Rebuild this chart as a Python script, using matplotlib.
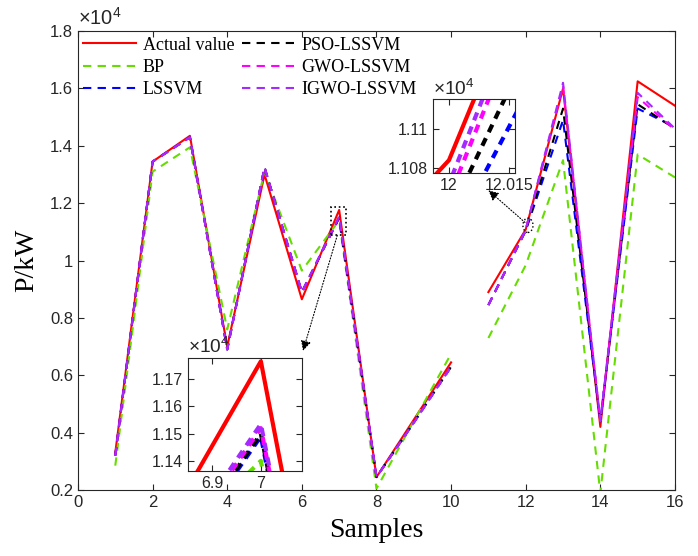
import matplotlib
matplotlib.use("Agg")
import matplotlib.pyplot as plt
from matplotlib.ticker import FuncFormatter
from matplotlib.patches import Rectangle, Ellipse
import numpy as np

# power values in kW, samples 1..16 (gap between sample 10 and 11)
samples = np.arange(1, 17)
actual = [3300, 13450, 14350, 7000, 13000, 8650, 11765, 2450, 4450, 6450,
          8900, 11084, 16000, 4200, 16250, 15400]
bp = [2850, 13100, 13950, 7600, 13100, 9650, 11400, 2050, 4400, 6750,
      7300, 9840, 13500, 1900, 13700, 12900]
lssvm = [3200, 13450, 14300, 6900, 13250, 8900, 11490, 2450, 4350, 6300,
         8450, 11043, 14900, 4400, 15300, 14650]
pso = [3200, 13450, 14300, 6900, 13250, 8900, 11500, 2450, 4350, 6300,
       8450, 11056, 15300, 4400, 15450, 14600]
gwo = [3200, 13450, 14300, 6900, 13250, 8900, 11520, 2450, 4350, 6300,
       8450, 11065, 16100, 4400, 15700, 14550]
igwo = [3200, 13450, 14300, 6900, 13250, 8900, 11535, 2450, 4350, 6300,
        8450, 11072, 16200, 4400, 15850, 14600]

series = [("Actual value", actual, "#ff0000", "-"),
          ("BP", bp, "#66dd00", "--"),
          ("LSSVM", lssvm, "#0000ff", "--"),
          ("PSO-LSSVM", pso, "#000000", "--"),
          ("GWO-LSSVM", gwo, "#ff00ff", "--"),
          ("IGWO-LSSVM", igwo, "#a52aff", "--")]

plt.rcParams["font.family"] = ["Liberation Sans", "DejaVu Sans"]
plt.rcParams["mathtext.fontset"] = "custom"
plt.rcParams["mathtext.rm"] = "Liberation Sans"
plt.rcParams["mathtext.it"] = "Liberation Sans:italic"
plt.rcParams["axes.edgecolor"] = "#262626"
plt.rcParams["xtick.color"] = "#262626"
plt.rcParams["ytick.color"] = "#262626"

SERIF = "Liberation Serif"
yfmt = FuncFormatter(lambda v, p: "{:g}".format(round(v / 1e4, 6)))
xfmt = FuncFormatter(lambda v, p: "{:g}".format(round(v, 4)))


def draw_series(ax, lw, dashes):
    for name, vals, col, ls in series:
        v = np.array(vals, dtype=float)
        for k, seg in enumerate([slice(0, 10), slice(10, 16)]):
            line, = ax.plot(samples[seg], v[seg], color=col, lw=lw,
                            label=name if k == 0 else None)
            if ls == "--":
                line.set_dashes(dashes)


def style_axes(ax, size):
    ax.tick_params(direction="in", top=True, right=True, labelsize=size,
                   length=4, width=0.8)
    ax.yaxis.set_major_formatter(yfmt)
    ax.xaxis.set_major_formatter(xfmt)
    ax.text(0.0, 1.005, r"$\times\mathrm{10^4}$", transform=ax.transAxes,
            fontsize=size * 1.2, color="#262626", va="bottom", ha="left")


fig = plt.figure(figsize=(6.98, 5.56), dpi=100)
ax = fig.add_axes([0.1117, 0.1187, 0.8553, 0.8253])
draw_series(ax, 1.5, (4, 3))
ax.set_xlim(0, 16)
ax.set_ylim(2000, 18000)
ax.set_xticks(np.arange(0, 17, 2))
ax.set_yticks(np.arange(2000, 18001, 2000))
style_axes(ax, 12)
ax.set_xlabel("Samples", fontfamily=SERIF, fontsize=20, labelpad=6)
ax.set_ylabel("P/kW", fontfamily=SERIF, fontsize=20, labelpad=8)

leg = ax.legend(loc="upper left", bbox_to_anchor=(0.0, 1.0), ncol=2,
                frameon=False, prop={"family": SERIF, "size": 13},
                handlelength=2.9, handletextpad=0.4, columnspacing=0.4,
                labelspacing=0.3, borderaxespad=0.15, borderpad=0.15)

# zoom markers on the main axes
ax.add_patch(Rectangle((6.78, 10880), 0.40, 980, fill=False, ls=":",
                       lw=1.2, color="k", zorder=10))
ax.add_patch(Ellipse((12.06, 11230), 0.27, 500, fill=False, ls=":",
                     lw=1.0, color="k", zorder=10))
ax.annotate("", xy=(6.03, 6850), xytext=(6.95, 10880),
            arrowprops=dict(arrowstyle="-|>", ls=":", lw=0.8, color="k",
                            mutation_scale=15, shrinkA=0, shrinkB=0))
ax.annotate("", xy=(11.0, 12450), xytext=(11.98, 11330),
            arrowprops=dict(arrowstyle="-|>", ls=":", lw=0.8, color="k",
                            mutation_scale=15, shrinkA=0, shrinkB=0))

# inset around sample 7
ax1 = fig.add_axes([0.2693, 0.1529, 0.1633, 0.2032])
draw_series(ax1, 3, (2, 1.6))
ax1.set_xlim(6.851, 7.084)
ax1.set_ylim(11363, 11777)
ax1.set_xticks([6.9, 7])
ax1.set_yticks([11400, 11500, 11600, 11700])
style_axes(ax1, 11.5)

# inset around sample 12
ax2 = fig.add_axes([0.6203, 0.6888, 0.1175, 0.1331])
draw_series(ax2, 3, (2, 1.6))
ax2.set_xlim(11.996, 12.0165)
ax2.set_ylim(11077.5, 11115)
ax2.set_xticks([12, 12.015])
ax2.set_yticks([11080, 11100])
style_axes(ax2, 11.5)

fig.savefig("out.png", dpi=100)
